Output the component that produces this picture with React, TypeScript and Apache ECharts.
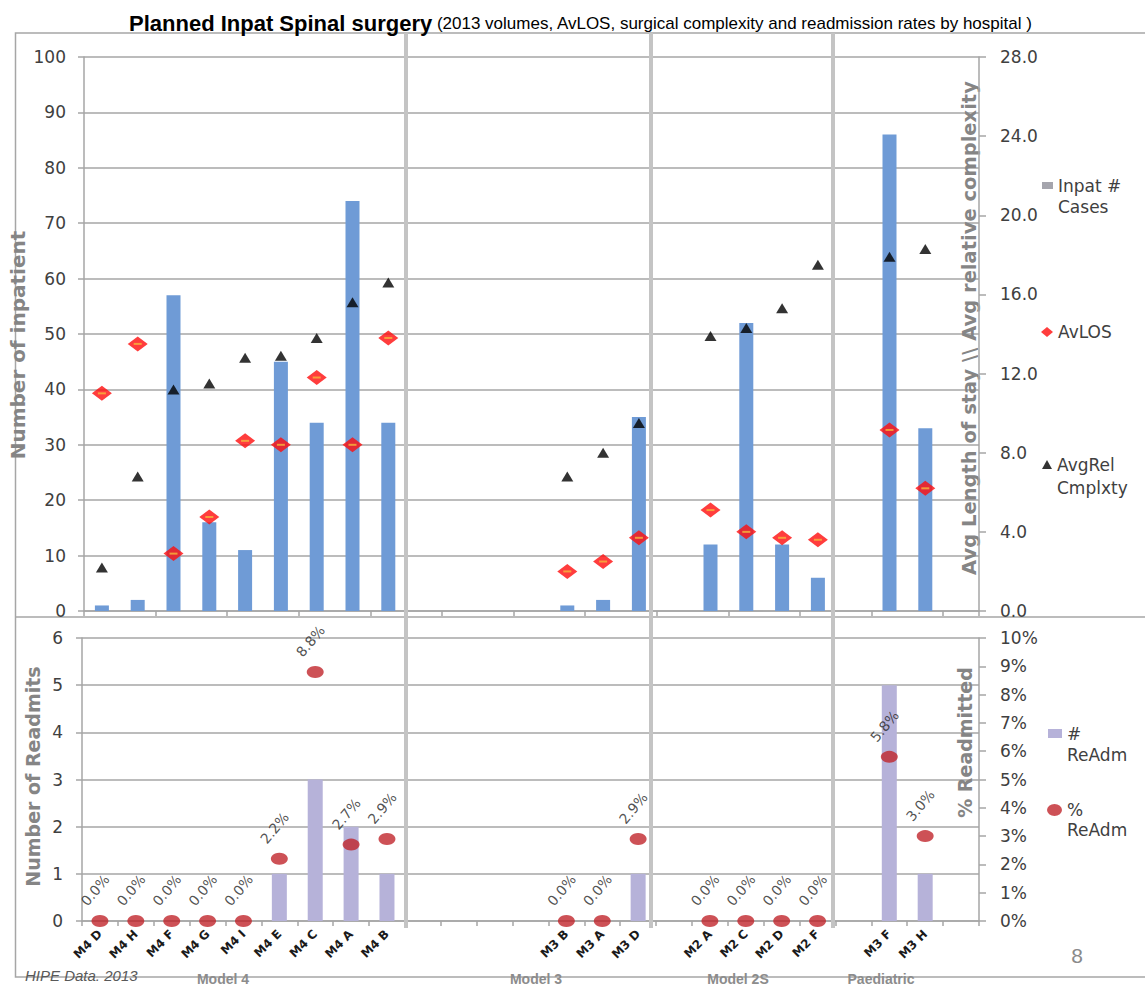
import React, { useEffect, useRef } from 'react';
import * as echarts from 'echarts';

// ---------- data ----------
const categories = [
  'M4 D', 'M4 H', 'M4 F', 'M4 G', 'M4 I', 'M4 E', 'M4 C', 'M4 A', 'M4 B',
  '', '', '', '',
  'M3 B', 'M3 A', 'M3 D',
  '',
  'M2 A', 'M2 C', 'M2 D', 'M2 F',
  '',
  'M3 F', 'M3 H',
  '',
];
const inpatCases = [1, 2, 57, 16, 11, 45, 34, 74, 34, null, null, null, null, 1, 2, 35, null, 12, 52, 12, 6, null, 86, 33, null];
const avLOS = [11.0, 13.5, 2.9, 4.75, 8.6, 8.4, 11.8, 8.4, 13.8, null, null, null, null, 2.0, 2.5, 3.7, null, 5.1, 4.0, 3.7, 3.6, null, 9.15, 6.2, null];
const avgRelCmplx = [2.2, 6.8, 11.2, 11.5, 12.8, 12.9, 13.8, 15.6, 16.6, null, null, null, null, 6.8, 8.0, 9.5, null, 13.9, 14.3, 15.3, 17.5, null, 17.9, 18.3, null];
const readmits = [0, 0, 0, 0, 0, 1, 3, 2, 1, null, null, null, null, 0, 0, 1, null, 0, 0, 0, 0, null, 5, 1, null];
const pctReadmitted = [0, 0, 0, 0, 0, 2.2, 8.8, 2.7, 2.9, null, null, null, null, 0, 0, 2.9, null, 0, 0, 0, 0, null, 5.8, 3.0, null];

const inpatAxis = { min: 0, max: 100, interval: 10 };
const losAxis = { min: 0, max: 28, interval: 4 };
const readmitAxis = { min: 0, max: 6, interval: 1 };
const pctAxis = { min: 0, max: 10, interval: 1 };

const groupLabels = ['Model 4', 'Model 3', 'Model 2S', 'Paediatric'];
const titleMain = 'Planned Inpat Spinal surgery';
const titleSub = '(2013 volumes, AvLOS, surgical complexity and readmission rates by hospital )';

// ---------- styles ----------
const FONT = "'DejaVu Sans', Verdana, sans-serif";
const SANS = "'Liberation Sans', Arial, sans-serif";
const GRID_COLOR = '#a6a6a6';
const groupLabelX = [223, 536, 738, 881];

const toPairs = (arr: (number | null)[]) =>
  arr.map((v, i) => (v == null ? null : [i, v])).filter((d) => d !== null) as number[][];

const axisNameStyle = (size: number, padding: number[]) => ({
  fontFamily: FONT,
  fontSize: size,
  fontWeight: 'bold',
  color: '#858585',
  padding,
});

const tickLabel = (margin: number, formatter?: (v: number) => string) => ({
  fontFamily: FONT,
  fontSize: 17,
  color: '#404040',
  margin,
  formatter,
});

const lineStyle = { color: GRID_COLOR, width: 1.5 };

const legendText = (lineHeight: number) => ({
  fontFamily: FONT,
  fontSize: 17,
  color: '#404040',
  lineHeight,
});

export default function App() {
  const ref = useRef<HTMLDivElement>(null);

  useEffect(() => {
    if (!ref.current) return;
    const chart = echarts.init(ref.current, null, { renderer: 'svg' });

    const option: any = {
      animation: false,
      backgroundColor: '#ffffff',
      title: {
        text: `{a|${titleMain}}{b| ${titleSub}}`,
        left: 124,
        top: 7,
        textStyle: {
          fontFamily: SANS,
          fontWeight: 'normal',
          rich: {
            a: { fontFamily: SANS, fontSize: 22, fontWeight: 'bold', color: '#000000' },
            b: { fontFamily: SANS, fontSize: 17, fontWeight: 'normal', color: '#000000' },
          },
        },
      },
      grid: [
        { left: 82, right: 166, top: 57, bottom: 376 },
        { left: 82, right: 166, top: 638, bottom: 66 },
      ],
      xAxis: [
        {
          type: 'category',
          gridIndex: 0,
          data: categories,
          boundaryGap: true,
          axisLine: { show: true, lineStyle },
          axisTick: { show: true, length: 5, lineStyle },
          axisLabel: { show: false },
          splitLine: { show: false },
        },
        {
          type: 'category',
          gridIndex: 1,
          data: categories,
          boundaryGap: true,
          axisLine: { show: true, lineStyle },
          axisTick: { show: true, length: 5, lineStyle },
          axisLabel: {
            show: true,
            interval: 0,
            rotate: 45,
            fontFamily: FONT,
            fontSize: 12,
            fontWeight: 'bold',
            color: '#1a1a1a',
            margin: 11,
          },
          splitLine: { show: false },
        },
      ],
      yAxis: [
        {
          type: 'value',
          gridIndex: 0,
          position: 'left',
          ...inpatAxis,
          name: 'Number of inpatient',
          nameLocation: 'middle',
          nameGap: 56,
          nameMoveOverlap: false,
          nameTextStyle: axisNameStyle(20, [0, 22, 0, 0]),
          axisLine: { show: true, lineStyle },
          axisTick: { show: true, length: 6, lineStyle },
          axisLabel: tickLabel(18),
          splitLine: { show: true, lineStyle },
        },
        {
          type: 'value',
          gridIndex: 0,
          position: 'right',
          ...losAxis,
          name: 'Avg Length of stay \\\\ Avg relative complexity',
          nameLocation: 'middle',
          nameGap: -20,
          nameMoveOverlap: false,
          nameTextStyle: axisNameStyle(19.5, [0, 0, 0, 12]),
          axisLine: { show: true, lineStyle },
          axisTick: { show: true, length: 7, lineStyle },
          axisLabel: tickLabel(21, (v: number) => v.toFixed(1)),
          splitLine: { show: false },
        },
        {
          type: 'value',
          gridIndex: 1,
          position: 'left',
          ...readmitAxis,
          name: 'Number of Readmits',
          nameLocation: 'middle',
          nameGap: 40,
          nameMoveOverlap: false,
          nameTextStyle: axisNameStyle(19, [0, 0, 0, 6]),
          axisLine: { show: true, lineStyle },
          axisTick: { show: true, length: 6, lineStyle },
          axisLabel: tickLabel(19),
          splitLine: { show: true, lineStyle },
        },
        {
          type: 'value',
          gridIndex: 1,
          position: 'right',
          ...pctAxis,
          name: '% Readmitted',
          nameLocation: 'middle',
          nameGap: -24,
          nameMoveOverlap: false,
          nameTextStyle: axisNameStyle(19, [0, 0, 0, 74]),
          axisLine: { show: true, lineStyle },
          axisTick: { show: true, length: 7, lineStyle },
          axisLabel: tickLabel(21, (v: number) => `${v}%`),
          splitLine: { show: false },
        },
      ],
      legend: [
        {
          data: ['Inpat # Cases'],
          left: 1042,
          top: 175,
          orient: 'vertical',
          padding: 0,
          selectedMode: false,
          itemWidth: 11,
          itemHeight: 42,
          icon: 'path://M0,0L0,0M0,7L11,7L11,14L0,14ZM11,42L11,42',
          itemStyle: { color: '#a5a5ad' },
          formatter: () => 'Inpat #\nCases',
          textStyle: legendText(21),
        },
        {
          data: ['AvLOS'],
          left: 1041,
          top: 322,
          orient: 'vertical',
          padding: 0,
          selectedMode: false,
          itemWidth: 12,
          itemHeight: 10,
          icon: 'diamond',
          textStyle: legendText(20),
        },
        {
          data: ['AvgRel Cmplxty'],
          left: 1042,
          top: 453,
          orient: 'vertical',
          padding: 0,
          selectedMode: false,
          itemWidth: 10,
          itemHeight: 46,
          icon: 'path://M0,0L0,0M5,7L10,16L0,16ZM10,46L10,46',
          formatter: () => 'AvgRel\nCmplxty',
          textStyle: legendText(23),
        },
        {
          data: ['# ReAdm'],
          left: 1048,
          top: 723,
          orient: 'vertical',
          padding: 0,
          selectedMode: false,
          itemWidth: 14,
          itemHeight: 42,
          icon: 'path://M0,0L0,0M0,6L14,6L14,15L0,15ZM14,42L14,42',
          formatter: () => '#\nReAdm',
          textStyle: legendText(21),
        },
        {
          data: ['% ReAdm'],
          left: 1047,
          top: 800,
          orient: 'vertical',
          padding: 0,
          selectedMode: false,
          itemWidth: 15,
          itemHeight: 40,
          icon: 'path://M0,0L0,0M0,10A7.5,6,0,1,1,15,10A7.5,6,0,1,1,0,10ZM15,40L15,40',
          formatter: () => '%\nReAdm',
          textStyle: legendText(20),
        },
      ],
      series: [
        {
          name: 'Inpat # Cases',
          type: 'bar',
          xAxisIndex: 0,
          yAxisIndex: 0,
          data: inpatCases,
          barWidth: 14,
          itemStyle: { color: '#6f9bd6' },
          z: 2,
        },
        {
          name: 'AvLOS',
          type: 'scatter',
          xAxisIndex: 0,
          yAxisIndex: 1,
          data: toPairs(avLOS),
          symbol: 'diamond',
          symbolSize: [20, 15],
          itemStyle: { color: '#ff0d0d' },
          clip: false,
          z: 4,
        },
        {
          name: 'AvLOS marker',
          type: 'scatter',
          xAxisIndex: 0,
          yAxisIndex: 1,
          data: toPairs(avLOS),
          symbol: 'rect',
          symbolSize: [8, 2],
          itemStyle: { color: '#f6b73c' },
          silent: true,
          clip: false,
          z: 5,
        },
        {
          name: 'AvgRel Cmplxty',
          type: 'scatter',
          xAxisIndex: 0,
          yAxisIndex: 1,
          data: toPairs(avgRelCmplx),
          symbol: 'triangle',
          symbolSize: [12, 10],
          itemStyle: { color: '#000000' },
          clip: false,
          z: 4,
        },
        {
          name: '# ReAdm',
          type: 'bar',
          xAxisIndex: 1,
          yAxisIndex: 2,
          data: readmits,
          barWidth: 15,
          itemStyle: { color: '#b6b2d9' },
          z: 2,
        },
        {
          name: '% ReAdm',
          type: 'scatter',
          xAxisIndex: 1,
          yAxisIndex: 3,
          data: toPairs(pctReadmitted),
          symbol: 'circle',
          symbolSize: [17, 12],
          itemStyle: { color: '#c0262c' },
          clip: false,
          z: 4,
          label: {
            show: true,
            position: 'top',
            distance: 4,
            rotate: 50,
            align: 'left',
            verticalAlign: 'middle',
            offset: [-5, -17],
            fontFamily: FONT,
            fontSize: 14,
            color: '#262626',
            formatter: (p: any) => `${Number(p.value[1]).toFixed(1)}%`,
          },
        },
      ],
      graphic: [
        {
          type: 'polyline',
          silent: true,
          z: 0,
          shape: { points: [[1160, 33], [15.5, 33], [15.5, 977], [1160, 977]] },
          style: { stroke: '#a6a6a6', lineWidth: 1.5, fill: 'none' },
        },
        {
          type: 'line',
          silent: true,
          z: 0,
          shape: { x1: 15, y1: 617, x2: 1145, y2: 617 },
          style: { stroke: '#a6a6a6', lineWidth: 1.5 },
        },
        ...[406, 651, 833].map((x) => ({
          type: 'line',
          silent: true,
          z: 1,
          shape: { x1: x, y1: 33, x2: x, y2: 928 },
          style: { stroke: '#c4c4c4', lineWidth: 4 },
        })),
        {
          type: 'text',
          x: 25,
          y: 975,
          silent: true,
          style: {
            text: 'HIPE Data. 2013',
            align: 'left',
            verticalAlign: 'middle',
            fontFamily: SANS,
            fontStyle: 'italic',
            fontSize: 15,
            fill: '#595959',
          },
        },
        ...groupLabels.map((t, i) => ({
          type: 'text',
          x: groupLabelX[i],
          y: 979,
          silent: true,
          style: {
            text: t,
            align: 'center',
            verticalAlign: 'middle',
            fontFamily: SANS,
            fontWeight: 'bold',
            fontSize: 14,
            fill: '#8c8c8c',
          },
        })),
        {
          type: 'text',
          x: 1077,
          y: 955,
          silent: true,
          style: {
            text: '8',
            align: 'center',
            verticalAlign: 'middle',
            fontFamily: SANS,
            fontSize: 21,
            fill: '#8a8a8a',
          },
        },
      ],
    };

    chart.setOption(option);
    return () => chart.dispose();
  }, []);

  return (
    <div
      ref={ref}
      style={{ position: 'absolute', left: 0, top: 0, width: 1145, height: 987, background: '#ffffff' }}
    />
  );
}
